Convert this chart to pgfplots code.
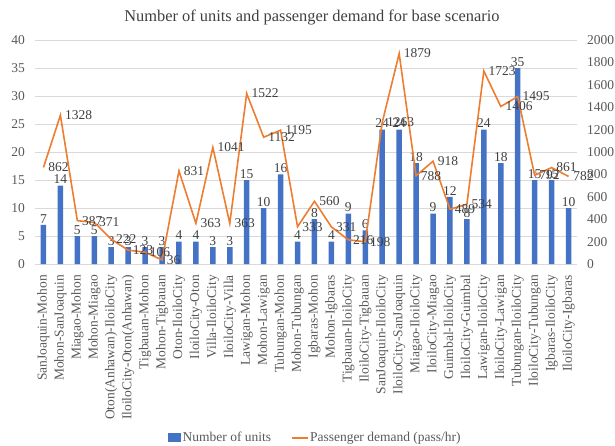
\documentclass[border=0pt]{standalone}
\usepackage{pgfplots}
\pgfplotsset{compat=1.18}
\usepackage{fontspec}
\setmainfont{Liberation Serif}
\definecolor{barblue}{HTML}{4472C4}
\definecolor{lineorange}{HTML}{ED7D31}
\definecolor{ticktext}{HTML}{595959}
\definecolor{labeltext}{HTML}{404040}
\definecolor{gridgray}{HTML}{D9D9D9}
\newcommand{\cfont}{\fontsize{13.5}{15}\selectfont}
\begin{document}
\begin{tikzpicture}
\path[use as bounding box] (-35pt,-181pt) rectangle (580pt,264pt);
\begin{axis}[
  at={(0,0)}, anchor=south west,
  width=542pt, height=224pt, scale only axis,
  xmin=0.5, xmax=32.5, ymin=0, ymax=40,
  ytick={0,5,...,40},
  xtick={1,...,32},
  xticklabels={SanJoaquin-Mohon,Mohon-SanJoaquin,Miagao-Mohon,Mohon-Miagao,Oton(Anhawan)-IloiloCity,IloiloCity-Oton(Anhawan),Tigbauan-Mohon,Mohon-Tigbauan,Oton-IloiloCity,IloiloCity-Oton,Villa-IloiloCity,IloiloCity-Villa,Lawigan-Mohon,Mohon-Lawigan,Tubungan-Mohon,Mohon-Tubungan,Igbaras-Mohon,Mohon-Igbaras,Tigbauan-IloiloCity,IloiloCity-Tigbauan,SanJoaquin-IloiloCity,IloiloCity-SanJoaquin,Miagao-IloiloCity,IloiloCity-Miagao,Guimbal-IloiloCity,IloiloCity-Guimbal,Lawigan-IloiloCity,IloiloCity-Lawigan,Tubungan-IloiloCity,IloiloCity-Tubungan,Igbaras-IloiloCity,IloiloCity-Igbaras},
  x tick label style={rotate=90, anchor=east, font=\cfont, text=ticktext, inner sep=0pt, xshift=-11pt},
  y tick label style={font=\cfont, text=ticktext, inner sep=0pt, xshift=-10pt},
  /pgf/number format/assume math mode=true,
  ymajorgrids, grid style={draw=gridgray, line width=0.6pt},
  axis line style={draw=none}, tick style={draw=none},
  clip=false,
  title={Number of units and passenger demand for base scenario},
  title style={at={(0.511,1)}, anchor=center, yshift=17pt, font=\fontsize{16.4}{18}\selectfont, text=labeltext},
  legend style={at={(0.517,-0.775)}, anchor=center, draw=none, fill=none, legend columns=2,
    font=\cfont,
    /tikz/every even column/.append style={column sep=18pt},
    nodes={inner sep=1.5pt}},
  legend cell align=left,
]
\addplot[ybar, bar width=5.5pt, fill=barblue, draw=none,
  nodes near coords,
  every node near coord/.append style={font=\cfont, text=labeltext, inner sep=1.5pt},
  legend image code/.code={\fill[barblue] (0pt,-4.5pt) rectangle (13pt,4.5pt);}]
  coordinates {(1,7)(2,14)(3,5)(4,5)(5,3)(6,3)(7,3)(8,3)(9,4)(10,4)(11,3)(12,3)(13,15)(14,10)(15,16)(16,4)(17,8)(18,4)(19,9)(20,6)(21,24)(22,24)(23,18)(24,9)(25,12)(26,8)(27,24)(28,18)(29,35)(30,15)(31,15)(32,10)};
\addlegendentry{\textcolor{ticktext}{Number of units}}
\addlegendimage{legend image code/.code={\draw[draw=lineorange, line width=1.8pt] (0pt,0pt) -- (16pt,0pt);}}
\addlegendentry{\textcolor{ticktext}{Passenger demand (pass/hr)}}
\end{axis}
\begin{axis}[
  at={(0,0)}, anchor=south west,
  width=542pt, height=224pt, scale only axis,
  xmin=0.5, xmax=32.5, ymin=0, ymax=2000,
  ytick={0,200,...,2000},
  yticklabel pos=right,
  hide x axis,
  y tick label style={font=\cfont, text=ticktext, inner sep=0pt, xshift=10pt},
  /pgf/number format/assume math mode=true,
  /pgf/number format/1000 sep={},
  axis line style={draw=none}, tick style={draw=none},
  clip=false,
]
\addplot[lineorange, line width=1.6pt, mark=none,
  nodes near coords,
  every node near coord/.append style={anchor=west, font=\cfont, text=labeltext, inner sep=1pt, xshift=3pt},
  /pgf/number format/1000 sep={}]
  coordinates {(1,862)(2,1328)(3,387)(4,371)(5,222)(6,123)(7,106)(8,36)(9,831)(10,363)(11,1041)(12,363)(13,1522)(14,1132)(15,1195)(16,333)(17,560)(18,331)(19,216)(20,198)(21,1263)(22,1879)(23,788)(24,918)(25,489)(26,534)(27,1723)(28,1406)(29,1495)(30,792)(31,861)(32,782)};
\end{axis}
\end{tikzpicture}
\end{document}
